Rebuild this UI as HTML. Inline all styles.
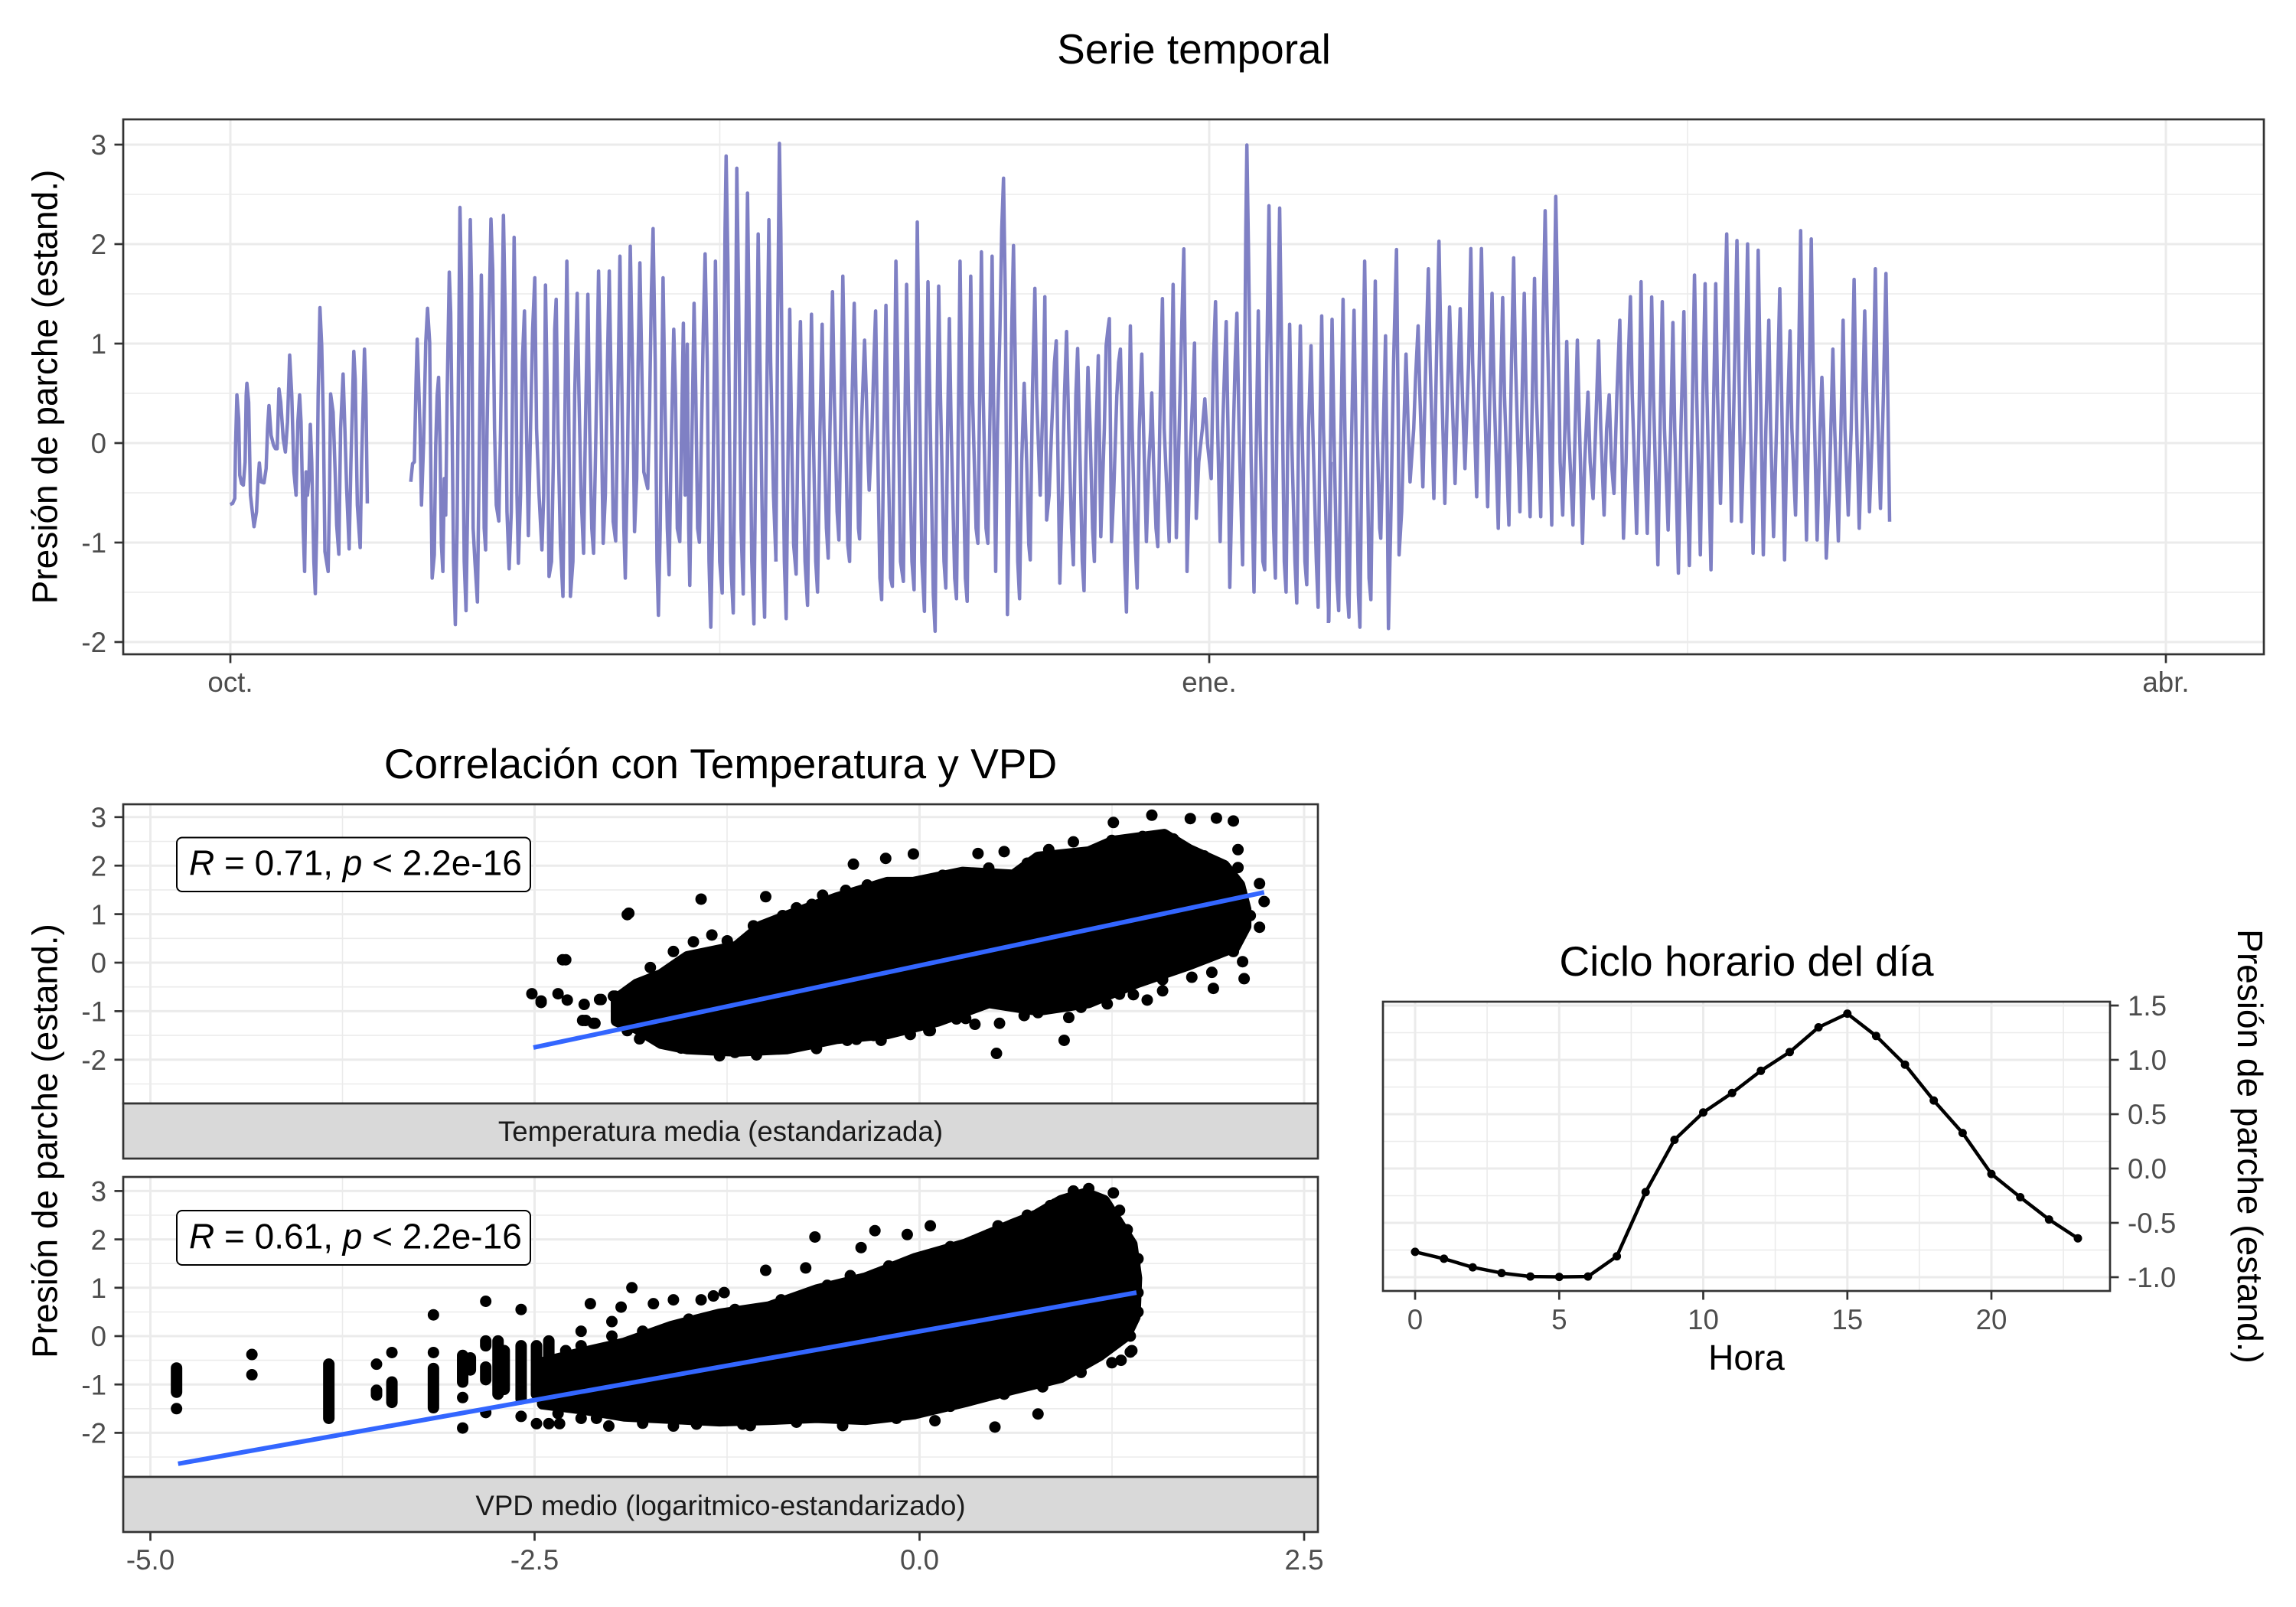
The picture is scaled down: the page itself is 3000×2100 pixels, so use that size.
<!DOCTYPE html>
<html><head><meta charset="utf-8">
<style>
html,body{margin:0;padding:0;background:#fff;}
svg{display:block;}
text{font-family:"Liberation Sans",Arial,sans-serif;}
.tk{font-size:36.7px;fill:#4d4d4d;}
.gmaj{stroke:#ebebeb;stroke-width:3;fill:none;}
.gmin{stroke:#ebebeb;stroke-width:1.6;fill:none;}
.brd{fill:none;stroke:#333333;stroke-width:2.7;}
.tick{stroke:#333333;stroke-width:2.7;}
.ser{fill:none;stroke:#7f80c4;stroke-width:4.5;stroke-linejoin:round;vector-effect:non-scaling-stroke;}
.dots{fill:none;stroke:#000;stroke-width:15;stroke-linecap:round;vector-effect:non-scaling-stroke;}
.blob{fill:#000;stroke:#000;stroke-width:15;stroke-linejoin:round;vector-effect:non-scaling-stroke;}
.reg{fill:none;stroke:#3366FF;stroke-width:6;vector-effect:non-scaling-stroke;}
</style></head>
<body>
<svg width="3000" height="2100" viewBox="0 0 3000 2100" xmlns="http://www.w3.org/2000/svg">
<rect x="0" y="0" width="3000" height="2100" fill="#fff"/>

<!-- ================= TOP PANEL ================= -->
<text x="1560" y="83" font-size="55" text-anchor="middle" fill="#000">Serie temporal</text>
<rect x="161" y="156" width="2797" height="699" fill="#fff"/>
<g class="gmin">
<line x1="161" x2="2958" y1="254" y2="254"/><line x1="161" x2="2958" y1="384" y2="384"/>
<line x1="161" x2="2958" y1="514" y2="514"/><line x1="161" x2="2958" y1="644" y2="644"/>
<line x1="161" x2="2958" y1="774" y2="774"/>
<line x1="940.5" x2="940.5" y1="156" y2="855"/><line x1="2205" x2="2205" y1="156" y2="855"/>
</g>
<g class="gmaj">
<line x1="161" x2="2958" y1="189" y2="189"/><line x1="161" x2="2958" y1="319" y2="319"/>
<line x1="161" x2="2958" y1="449" y2="449"/><line x1="161" x2="2958" y1="579" y2="579"/>
<line x1="161" x2="2958" y1="709" y2="709"/><line x1="161" x2="2958" y1="839" y2="839"/>
<line x1="301" x2="301" y1="156" y2="855"/><line x1="1580" x2="1580" y1="156" y2="855"/>
<line x1="2830" x2="2830" y1="156" y2="855"/>
</g>

<g transform="translate(290,170) scale(0.46556,0.43367)">
<polyline class="ser" points="23,1128 30,1125 36,1110 38,960 42,798 47,870 50,1040 55,1065 60,1070 65,1000 68,800 70,763 75,820 80,1100 90,1195 97,1150 101,1060 105,1003 110,1060 118,1063 124,1020 128,900 132,830 138,920 145,950 150,960 155,960 160,780 165,820 172,930 178,970 184,880 190,678 196,800 202,1030 208,1100 213,880 218,798 222,880 228,1200 232,1330 236,1030 240,1100 244,1050 248,887 252,1000 258,1300 262,1397 266,1200 270,800 275,535 280,650 285,900 289,1270 298,1330 302,1100 305,795 312,850 318,1040 322,1190 328,1278 333,900 340,735 345,900 350,1080 357,1262 362,1000 370,667 374,750 380,1130 388,1258 392,1000 400,660 404,800 408,1125"/>
<polyline class="ser" points="530,1060 535,1005 540,1000 545,750 548,630 552,760 556,900 560,1130 566,940 572,640 577,537 583,640 587,1100 590,1350 596,1280 600,950 604,800 608,745 612,950 616,1250 620,1330 624,1050 628,1160 632,800 638,428 642,550 646,900 650,1300 655,1490 660,1200 664,700 668,233 672,450 676,900 680,1300 685,1448 690,1100 693,600 697,270 701,500 705,1200 710,1300 717,1422 722,1000 728,437 732,700 736,1200 740,1265 744,900 750,550 755,268 760,420 765,900 770,1130 777,1178 782,900 790,257 795,550 800,1150 806,1322 812,1150 820,323 825,700 828,1100 832,1305 838,1100 843,700 849,545 853,800 860,1222 866,900 872,600 878,445 883,900 890,1100 898,1265 903,1100 908,467 913,800 918,1345 925,1300 930,1000 934,600 938,510 943,900 950,1250 957,1405 962,900 968,395 972,700 978,1405 985,1300 990,800 997,492 1002,800 1008,1100 1015,1275 1020,900 1027,495 1032,900 1038,1200 1043,1275 1048,1000 1053,700 1057,425 1062,700 1070,1245 1076,1100 1082,700 1087,425 1092,750 1098,1180 1105,1238 1110,900 1117,380 1122,750 1128,1200 1132,1350 1138,1000 1146,350 1152,700 1158,1210 1164,1050 1168,700 1173,400 1178,700 1184,1030 1195,1080 1200,850 1205,500 1210,297 1216,700 1221,1300 1225,1462 1230,1200 1234,800 1238,445 1243,800 1250,1200 1255,1340 1260,1000 1264,800 1268,600 1273,800 1278,1200 1285,1240 1290,900 1295,582 1300,1100 1306,645 1310,1200 1313,1372 1318,1000 1325,522 1330,800 1335,1200 1340,1242 1346,900 1351,600 1356,373 1362,700 1367,1300 1372,1498 1377,1200 1381,800 1385,395 1390,800 1397,1300 1404,1395 1408,800 1412,300 1415,78 1420,400 1428,1300 1435,1455 1440,900 1445,115 1450,500 1457,1200 1463,1398 1468,900 1475,190 1480,600 1487,1300 1493,1488 1499,900 1505,313 1510,700 1518,1300 1523,1468 1528,900 1535,270 1540,700 1548,1100 1555,1300"/>
</g>
<g transform="translate(1010,170) scale(0.46556,0.43367)">
<polyline class="ser" points="8,1300 13,600 18,40 22,300 27,900 32,1300 37,1472 42,1000 47,540 52,900 58,1250 65,1338 70,900 77,577 82,900 90,1300 97,1432 102,1000 108,555 113,900 120,1300 125,1392 132,900 138,585 143,900 150,1200 155,1290 160,900 167,487 172,800 180,1150 185,1235 190,900 196,440 202,800 210,1250 215,1300 220,900 228,522 233,800 240,1200 243,1232 248,900 257,633 262,800 267,1000 270,1085 278,900 283,700 288,545 293,900 300,1350 305,1415 310,1000 317,528 322,900 330,1350 335,1375 340,900 345,395 350,700 358,1300 366,1360 370,900 375,465 380,800 390,1300 396,1385 400,900 405,277 410,700 418,1300 425,1450 430,900 435,457 440,800 450,1400 455,1510 460,900 465,470 470,800 480,1300 485,1380 490,900 495,568 500,900 510,1350 515,1412 520,900 525,395 530,800 540,1350 545,1420 550,900 555,440 560,800 570,1200 575,1245 580,800 585,367 590,800 598,1200 603,1245 610,800 615,380 620,900 625,1330 630,900 637,600 642,300 647,145 652,500 658,1460 665,1000 670,600 675,348 680,700 687,1300 692,1412 698,1000 705,763 712,1000 718,1250 722,1295 728,800 735,477 740,800 750,1100 758,800 763,502 768,1175 775,1100 782,900 790,700 795,635 800,1000 805,1365 812,1100 818,800 824,607 830,900 838,1200 843,1310 850,800 855,658 862,1000 868,1300 873,1388 878,1000 884,715 890,900 897,1200 902,1300 907,900 913,680 916,900 920,1225 930,900 935,650 940,600 944,568 948,1000 950,1240 956,1100 965,800 970,700 975,660 980,900 987,1300 992,1452 997,1100 1003,590 1008,900 1015,1200 1022,1380 1028,900 1035,675 1040,900 1048,1240 1055,1000 1060,900 1063,792 1068,1000 1075,1200 1080,1255 1087,800 1093,508 1098,900 1106,1100 1112,1240 1118,800 1123,465 1128,900 1132,1228 1140,900 1147,600 1153,358 1158,800 1162,1330 1170,1000 1178,800 1183,642 1188,1170 1195,1000 1205,900 1212,810 1220,950 1230,1050 1236,700 1242,517 1248,900 1255,1240 1262,900 1268,700 1272,577 1277,900 1282,1378 1290,1000 1297,700 1302,552 1308,900 1318,1310 1324,700 1327,300 1330,45 1335,400 1342,1000 1350,1392 1357,900 1362,545 1367,900 1375,1300 1380,1325 1386,700 1392,228 1398,700 1405,1200 1410,1350 1416,700 1422,235 1428,700 1435,1300 1440,1392 1445,900 1450,585 1455,900 1465,1300 1470,1425 1475,900 1480,590 1485,900 1493,1300 1498,1370 1503,900 1510,650 1515,900 1525,1300 1530,1438 1535,900 1540,560 1545,900 1555,1300 1560,1480 1566,1000"/>
</g>
<g transform="translate(1730,170) scale(0.47832,0.43367)">
<polyline class="ser" points="12,1485 17,1000 22,570 27,900 35,1350 40,1448 45,1000 52,510 57,900 64,1400 68,1468 74,1000 82,543 87,900 94,1400 98,1498 104,900 111,395 116,800 123,1350 128,1415 134,900 140,455 145,900 152,1200 155,1230 162,900 168,620 172,1000 176,1502 182,1200 190,700 198,360 203,900 205,1280 212,1150 218,900 224,675 230,900 235,1060 245,900 250,750 257,590 262,800 270,1075 278,700 285,418 290,700 300,1110 307,700 314,335 320,700 330,1125 337,800 343,533 350,800 358,1065 365,800 372,538 378,800 385,1020 395,700 401,357 406,700 417,1105 424,700 430,357 436,700 447,1135 453,800 459,492 465,800 476,1200 482,800 488,505 493,800 505,1190 512,700 518,385 523,700 535,1150 541,800 547,492 552,800 563,1165 569,800 575,447 580,800 592,1165 598,600 604,243 610,600 622,1190 628,600 633,200 638,500 645,1000 652,1160 658,900 663,637 668,900 680,1190 686,900 692,633 698,900 706,1245 712,1000 721,790 727,1000 735,1110 742,900 750,635 756,900 765,1160 772,900 779,798 785,1000 792,1095 800,800 808,573 813,900 818,1230 825,1000 831,700 837,502 842,800 854,1215 860,900 866,457 871,800 883,1215 889,900 895,503 900,800 912,1310 918,900 924,517 930,900 940,1205 947,900 953,580 958,900 968,1335 975,900 983,547 988,900 998,1312 1005,900 1012,437 1018,800 1028,1280 1035,800 1041,463 1046,800 1057,1325 1063,900 1070,463 1075,800 1083,1125 1090,800 1096,500 1100,313 1105,700 1113,1178 1120,800 1128,333 1133,700 1140,1180 1148,900 1157,343 1162,700 1172,1275 1180,900 1186,362 1191,700 1200,1280 1207,900 1215,573 1220,900 1228,1225 1236,900 1245,478 1250,800 1258,1295 1265,900 1273,605 1278,900 1288,1160 1295,800 1302,303 1307,700 1318,1235 1325,800 1331,328 1336,700 1347,1235 1355,900 1360,745 1365,900 1372,1290 1380,1100 1390,660 1395,900 1405,1238 1412,900 1418,573 1423,900 1432,1160 1440,900 1448,450 1453,800 1462,1200 1470,900 1477,545 1482,800 1490,1150 1498,900 1506,418 1511,800 1520,1140 1528,800 1535,432 1540,800 1545,1180"/>
</g>
<rect class="brd" x="161" y="156" width="2797" height="699"/>
<g class="tick">
<line x1="149.5" x2="161" y1="189" y2="189"/><line x1="149.5" x2="161" y1="319" y2="319"/>
<line x1="149.5" x2="161" y1="449" y2="449"/><line x1="149.5" x2="161" y1="579" y2="579"/>
<line x1="149.5" x2="161" y1="709" y2="709"/><line x1="149.5" x2="161" y1="839" y2="839"/>
<line x1="301" x2="301" y1="855" y2="866.5"/><line x1="1580" x2="1580" y1="855" y2="866.5"/>
<line x1="2830" x2="2830" y1="855" y2="866.5"/>
</g>
<g class="tk" text-anchor="end">
<text x="139" y="202">3</text><text x="139" y="332">2</text><text x="139" y="462">1</text>
<text x="139" y="592">0</text><text x="139" y="722">-1</text><text x="139" y="852">-2</text>
</g>
<g class="tk" text-anchor="middle">
<text x="301" y="904">oct.</text><text x="1580" y="904">ene.</text><text x="2830" y="904">abr.</text>
</g>
<text transform="translate(74.5,505.5) rotate(-90)" font-size="46" text-anchor="middle" fill="#000">Presión de parche (estand.)</text>

<!-- ================= BOTTOM LEFT ================= -->
<text x="941.5" y="1017" font-size="55" text-anchor="middle" fill="#000">Correlación con Temperatura y VPD</text>

<!-- panel 1 -->
<rect x="161" y="1051" width="1561" height="391" fill="#fff"/>
<g class="gmin">
<line x1="161" x2="1722" y1="1099.5" y2="1099.5"/><line x1="161" x2="1722" y1="1162.9" y2="1162.9"/>
<line x1="161" x2="1722" y1="1226.3" y2="1226.3"/><line x1="161" x2="1722" y1="1289.7" y2="1289.7"/>
<line x1="161" x2="1722" y1="1353.1" y2="1353.1"/><line x1="161" x2="1722" y1="1416.5" y2="1416.5"/>
<line x1="447.5" x2="447.5" y1="1051" y2="1442"/><line x1="950" x2="950" y1="1051" y2="1442"/>
<line x1="1453" x2="1453" y1="1051" y2="1442"/>
</g>
<g class="gmaj">
<line x1="161" x2="1722" y1="1067.8" y2="1067.8"/><line x1="161" x2="1722" y1="1131.2" y2="1131.2"/>
<line x1="161" x2="1722" y1="1194.6" y2="1194.6"/><line x1="161" x2="1722" y1="1258" y2="1258"/>
<line x1="161" x2="1722" y1="1321.4" y2="1321.4"/><line x1="161" x2="1722" y1="1384.8" y2="1384.8"/>
<line x1="196.5" x2="196.5" y1="1051" y2="1442"/><line x1="698.5" x2="698.5" y1="1051" y2="1442"/>
<line x1="1201.5" x2="1201.5" y1="1051" y2="1442"/><line x1="1704" x2="1704" y1="1051" y2="1442"/>
</g>
<g transform="matrix(201 0 0 -63.4 1201.5 1258)">
<polygon class="blob" points="-1.97,-0.75 -1.84,-0.45 -1.68,-0.25 -1.51,0.12 -1.19,0.33 -1.03,0.75 -0.86,0.96 -0.54,1.33 -0.21,1.65 -0.04,1.65 0.28,1.86 0.61,1.8 0.77,2.17 1.1,2.28 1.26,2.5 1.59,2.64 1.75,2.33 1.98,2.0 2.08,1.6 2.12,1.1 2.12,0.75 2.05,0.33 1.75,-0.04 1.42,-0.4 1.1,-0.82 0.77,-0.98 0.45,-0.82 0.12,-1.2 -0.21,-1.46 -0.54,-1.56 -0.86,-1.77 -1.19,-1.82 -1.51,-1.77 -1.68,-1.66 -1.84,-1.35 -1.97,-1.2"/>
<path class="dots" d="M-2.52 -0.64h0M-2.46 -0.79h0M-2.35 -0.64h0M-2.29 -0.77h0M-2.30 0.06h0M-2.18 -0.86h0M-2.17 -1.19h0M-2.11 -1.25h0M-2.07 -0.76h0M-1.99 -0.69h0M-1.90 0.99h0M-2.32 0.06h0M-1.89 1.02h0M-1.42 1.31h0M-1.0 1.36h0M-0.43 2.03h0M-0.22 2.15h0M-0.04 2.24h0M0.38 2.25h0M0.55 2.29h0M1.26 2.89h0M1.51 3.04h0M1.76 2.97h0M1.93 2.98h0M2.04 2.92h0M2.21 1.63h0M2.24 1.26h0M2.21 0.73h0M2.11 -0.33h0M1.91 -0.53h0M1.58 -0.58h0M1.48 -0.77h0M0.94 -1.6h0M0.5 -1.87h0M0.52 -1.25h0M0.36 -1.27h0M0.24 -1.16h0M-0.25 -1.6h0M0.07 -1.4h0M-0.06 -1.48h0M-0.47 -1.6h0M-1.82 -1.57h0M-2.19 -1.19h0M-2.12 -1.25h0M-2.46 -0.82h0M-2.35 -0.64h0M-2.08 -0.76h0M-1.98 -0.69h0M-1.6 0.23h0M-1.35 0.57h0M-1.47 0.43h0M-1.08 0.76h0M-0.89 0.97h0M-0.8 1.13h0M-0.63 1.39h0M-0.48 1.49h0M-0.34 1.6h0M0.84 2.33h0M1.0 2.49h0M1.25 2.52h0M2.07 2.33h0M2.07 1.96h0M2.15 0.97h0M2.1 0.02h0M2.04 0.23h0M1.58 -0.35h0M1.77 -0.3h0M1.39 -0.66h0M1.22 -0.85h0M1.05 -0.92h0M0.97 -1.13h0M0.77 -1.03h0M0.68 -1.09h0M0.22 -1.06h0M0.06 -1.4h0M-0.41 -1.58h0M-0.67 -1.77h0M-1.06 -1.9h0M-1.3 -1.92h0M-1.55 -1.76h0M-1.7 -1.55h0M-1.75 -0.1h0M-1.25 0.45h0M-0.7 1.2h0M0.15 1.8h0M0.45 1.95h0M0.7 2.05h0M1.45 2.6h0M1.65 2.55h0M1.85 2.2h0M-1.9 -1.4h0M-1.2 -1.85h0M-0.3 -1.5h0M0.3 -1.15h0M1.3 -0.65h0M1.9 -0.2h0"/>
<line class="reg" x1="-2.51" y1="-1.75" x2="2.24" y2="1.45"/>
</g>
<rect class="brd" x="161" y="1051" width="1561" height="391"/>
<rect x="231" y="1094.5" width="462" height="70.5" rx="7" ry="7" fill="#fff" stroke="#000" stroke-width="2"/>
<text x="247" y="1143.5" font-size="46" fill="#000"><tspan font-style="italic">R</tspan> = 0.71, <tspan font-style="italic">p</tspan> &lt; 2.2e-16</text>
<!-- strip 1 -->
<rect x="161" y="1442" width="1561" height="72" fill="#d9d9d9" stroke="#333333" stroke-width="2.7"/>
<text x="941.5" y="1491" font-size="36.7" text-anchor="middle" fill="#1a1a1a">Temperatura media (estandarizada)</text>

<!-- panel 2 -->
<rect x="161" y="1538" width="1561" height="392" fill="#fff"/>
<g class="gmin">
<line x1="161" x2="1722" y1="1588" y2="1588"/><line x1="161" x2="1722" y1="1651.2" y2="1651.2"/>
<line x1="161" x2="1722" y1="1714.4" y2="1714.4"/><line x1="161" x2="1722" y1="1777.6" y2="1777.6"/>
<line x1="161" x2="1722" y1="1840.8" y2="1840.8"/><line x1="161" x2="1722" y1="1904" y2="1904"/>
<line x1="447.5" x2="447.5" y1="1538" y2="1930"/><line x1="950" x2="950" y1="1538" y2="1930"/>
<line x1="1453" x2="1453" y1="1538" y2="1930"/>
</g>
<g class="gmaj">
<line x1="161" x2="1722" y1="1556.4" y2="1556.4"/><line x1="161" x2="1722" y1="1619.6" y2="1619.6"/>
<line x1="161" x2="1722" y1="1682.8" y2="1682.8"/><line x1="161" x2="1722" y1="1746" y2="1746"/>
<line x1="161" x2="1722" y1="1809.2" y2="1809.2"/><line x1="161" x2="1722" y1="1872.4" y2="1872.4"/>
<line x1="196.5" x2="196.5" y1="1538" y2="1930"/><line x1="698.5" x2="698.5" y1="1538" y2="1930"/>
<line x1="1201.5" x2="1201.5" y1="1538" y2="1930"/><line x1="1704" x2="1704" y1="1538" y2="1930"/>
</g>
<g transform="matrix(201 0 0 -63.2 1201.5 1746)">
<polygon class="blob" points="-2.45,-0.55 -2.2,-0.35 -1.92,-0.15 -1.61,0.2 -1.3,0.45 -0.98,0.6 -0.67,0.95 -0.35,1.2 -0.03,1.6 0.3,1.9 0.6,2.3 0.76,2.5 0.92,2.8 1.08,2.95 1.2,2.8 1.3,2.3 1.38,1.9 1.41,1.2 1.40,0.4 1.34,0.0 1.17,-0.4 0.92,-0.85 0.6,-1.1 0.3,-1.35 -0.03,-1.6 -0.35,-1.72 -0.67,-1.68 -0.98,-1.72 -1.3,-1.75 -1.61,-1.7 -1.92,-1.65 -2.2,-1.5 -2.45,-1.4"/>
<path class="dots" d="M-4.83 -0.66v-0.5M-4.83 -1.5h0M-4.34 -0.38h0M-4.34 -0.8h0M-3.84 -0.58v-1.12M-3.53 -0.58h0M-3.53 -1.12v-0.1M-3.43 -0.34h0M-3.43 -0.95v-0.42M-3.16 0.44h0M-3.16 -0.34h0M-3.16 -0.67v-0.81M-2.97 -0.4v-0.55M-2.97 -1.27h0M-2.97 -1.9h0M-2.92 -0.45v-0.25M-2.82 0.72h0M-2.82 -0.1v-0.1M-2.82 -0.64v-0.26M-2.82 -1.58h0M-2.74 -0.1v-1.1M-2.70 -0.3v-0.8M-2.59 0.55h0M-2.59 -0.2v-1.1M-2.59 -1.66h0M-2.49 -0.2v-1.0M-2.49 -1.81h0M-2.41 -0.1v-1.0M-2.41 -1.81h0M-2.14 0.67h0M-1.94 0.6h0M-1.87 1.0h0M-1.73 0.67h0M-1.6 0.75h0M-1.42 0.75h0M-1.34 0.83h0M-1.27 0.9h0M-1.0 1.36h0M-0.74 1.41h0M-0.68 2.05h0M-0.38 1.83h0M-0.29 2.18h0M-0.08 2.1h0M0.07 2.28h0M0.51 2.28h0M0.88 2.73h0M1.10 3.05h0M1.26 2.96h0M1.28 2.36h0M1.40 1.24h0M1.38 -0.3h0M1.31 -0.5h0M-2.34 -1.81h0M-2.02 -1.86h0M-1.6 -1.86h0M-1.45 -1.78h0M0.49 -1.88h0M0.77 -1.61h0M1.37 -0.33h0M1.37 0.0h0M1.38 1.83h0M1.27 2.38h0M1.0 3.0h0M1.4 1.5h0M-2.3 -0.3h0M-2.2 0.1h0M-2.0 0.3h0M-2.2 -1.7h0M-1.8 -1.8h0M-1.1 -1.85h0M-0.5 -1.85h0M0.1 -1.75h0M-2.2 -0.2h0M-2.0 0.0h0M-1.8 0.1h0M-1.5 0.35h0M-1.2 0.55h0M-0.9 0.75h0M-0.6 1.05h0M-0.45 1.25h0M-0.2 1.45h0M0.2 1.85h0M0.45 2.1h0M0.7 2.5h0M0.85 2.7h0M1.3 2.6h0M1.35 2.2h0M1.42 1.6h0M1.42 0.9h0M1.42 0.5h0M1.25 -0.55h0M1.05 -0.75h0M0.8 -1.05h0M0.55 -1.2h0M0.2 -1.45h0M-0.15 -1.7h0M-0.5 -1.8h0M-0.8 -1.78h0M-1.15 -1.82h0M-1.45 -1.82h0M-1.8 -1.78h0M-2.1 -1.7h0M-2.35 -1.6h0"/>
<line class="reg" x1="-4.82" y1="-2.64" x2="1.41" y2="0.9"/>
</g>
<rect class="brd" x="161" y="1538" width="1561" height="392"/>
<rect x="231" y="1582" width="462" height="71" rx="7" ry="7" fill="#fff" stroke="#000" stroke-width="2"/>
<text x="247" y="1631.5" font-size="46" fill="#000"><tspan font-style="italic">R</tspan> = 0.61, <tspan font-style="italic">p</tspan> &lt; 2.2e-16</text>
<!-- strip 2 -->
<rect x="161" y="1930" width="1561" height="72" fill="#d9d9d9" stroke="#333333" stroke-width="2.7"/>
<text x="941.5" y="1980" font-size="36.7" text-anchor="middle" fill="#1a1a1a">VPD medio (logaritmico-estandarizado)</text>

<g class="tick">
<line x1="149.5" x2="161" y1="1067.8" y2="1067.8"/><line x1="149.5" x2="161" y1="1131.2" y2="1131.2"/>
<line x1="149.5" x2="161" y1="1194.6" y2="1194.6"/><line x1="149.5" x2="161" y1="1258" y2="1258"/>
<line x1="149.5" x2="161" y1="1321.4" y2="1321.4"/><line x1="149.5" x2="161" y1="1384.8" y2="1384.8"/>
<line x1="149.5" x2="161" y1="1556.4" y2="1556.4"/><line x1="149.5" x2="161" y1="1619.6" y2="1619.6"/>
<line x1="149.5" x2="161" y1="1682.8" y2="1682.8"/><line x1="149.5" x2="161" y1="1746" y2="1746"/>
<line x1="149.5" x2="161" y1="1809.2" y2="1809.2"/><line x1="149.5" x2="161" y1="1872.4" y2="1872.4"/>
<line x1="196.5" x2="196.5" y1="2002" y2="2013.5"/><line x1="698.5" x2="698.5" y1="2002" y2="2013.5"/>
<line x1="1201.5" x2="1201.5" y1="2002" y2="2013.5"/><line x1="1704" x2="1704" y1="2002" y2="2013.5"/>
</g>
<g class="tk" text-anchor="end">
<text x="139" y="1081">3</text><text x="139" y="1144.4">2</text><text x="139" y="1207.8">1</text>
<text x="139" y="1271.2">0</text><text x="139" y="1334.6">-1</text><text x="139" y="1398">-2</text>
<text x="139" y="1569.6">3</text><text x="139" y="1632.8">2</text><text x="139" y="1696">1</text>
<text x="139" y="1759.2">0</text><text x="139" y="1822.4">-1</text><text x="139" y="1885.6">-2</text>
</g>
<g class="tk" text-anchor="middle">
<text x="196.5" y="2051">-5.0</text><text x="698.5" y="2051">-2.5</text>
<text x="1201.5" y="2051">0.0</text><text x="1704" y="2051">2.5</text>
</g>
<text transform="translate(74.5,1491) rotate(-90)" font-size="46" text-anchor="middle" fill="#000">Presión de parche (estand.)</text>

<!-- ================= RIGHT PANEL ================= -->
<text x="2282" y="1275" font-size="55" text-anchor="middle" fill="#000">Ciclo horario del día</text>
<rect x="1807" y="1309" width="950" height="378" fill="#fff"/>
<g class="gmin">
<line x1="1807" x2="2757" y1="1349.5" y2="1349.5"/><line x1="1807" x2="2757" y1="1420.5" y2="1420.5"/>
<line x1="1807" x2="2757" y1="1491.5" y2="1491.5"/><line x1="1807" x2="2757" y1="1562.5" y2="1562.5"/>
<line x1="1807" x2="2757" y1="1633.5" y2="1633.5"/>
<line x1="1943.1" x2="1943.1" y1="1309" y2="1687"/><line x1="2131.4" x2="2131.4" y1="1309" y2="1687"/>
<line x1="2319.6" x2="2319.6" y1="1309" y2="1687"/><line x1="2507.9" x2="2507.9" y1="1309" y2="1687"/>
<line x1="2696.1" x2="2696.1" y1="1309" y2="1687"/>
</g>
<g class="gmaj">
<line x1="1807" x2="2757" y1="1314" y2="1314"/><line x1="1807" x2="2757" y1="1385" y2="1385"/>
<line x1="1807" x2="2757" y1="1456" y2="1456"/><line x1="1807" x2="2757" y1="1527" y2="1527"/>
<line x1="1807" x2="2757" y1="1598" y2="1598"/><line x1="1807" x2="2757" y1="1669" y2="1669"/>
<line x1="1849" x2="1849" y1="1309" y2="1687"/><line x1="2037.3" x2="2037.3" y1="1309" y2="1687"/>
<line x1="2225.5" x2="2225.5" y1="1309" y2="1687"/><line x1="2413.8" x2="2413.8" y1="1309" y2="1687"/>
<line x1="2602" x2="2602" y1="1309" y2="1687"/>
</g>
<polyline fill="none" stroke="#000" stroke-width="4.5" stroke-linejoin="round" points="1849,1635.9 1886.7,1644.9 1924.3,1656.1 1962,1663.6 1999.6,1668.1 2037.3,1668.6 2074.9,1668.1 2112.6,1641.7 2150.2,1557.8 2187.9,1489.5 2225.5,1453.7 2263.2,1428.3 2300.8,1399.3 2338.5,1374.8 2376.1,1342.5 2413.8,1324.6 2451.4,1353.8 2489.1,1391.2 2526.7,1438.1 2564.4,1480.6 2602,1534.1 2639.7,1564.5 2677.3,1593.6 2715,1618.2"/>
<path fill="none" stroke="#000" stroke-width="11" stroke-linecap="round" d="M1849 1635.9h0M1886.7 1644.9h0M1924.3 1656.1h0M1962 1663.6h0M1999.6 1668.1h0M2037.3 1668.6h0M2074.9 1668.1h0M2112.6 1641.7h0M2150.2 1557.8h0M2187.9 1489.5h0M2225.5 1453.7h0M2263.2 1428.3h0M2300.8 1399.3h0M2338.5 1374.8h0M2376.1 1342.5h0M2413.8 1324.6h0M2451.4 1353.8h0M2489.1 1391.2h0M2526.7 1438.1h0M2564.4 1480.6h0M2602 1534.1h0M2639.7 1564.5h0M2677.3 1593.6h0M2715 1618.2h0"/>
<rect class="brd" x="1807" y="1309" width="950" height="378"/>
<g class="tick">
<line x1="2757" x2="2768.5" y1="1314" y2="1314"/><line x1="2757" x2="2768.5" y1="1385" y2="1385"/>
<line x1="2757" x2="2768.5" y1="1456" y2="1456"/><line x1="2757" x2="2768.5" y1="1527" y2="1527"/>
<line x1="2757" x2="2768.5" y1="1598" y2="1598"/><line x1="2757" x2="2768.5" y1="1669" y2="1669"/>
<line x1="1849" x2="1849" y1="1687" y2="1698.5"/><line x1="2037.3" x2="2037.3" y1="1687" y2="1698.5"/>
<line x1="2225.5" x2="2225.5" y1="1687" y2="1698.5"/><line x1="2413.8" x2="2413.8" y1="1687" y2="1698.5"/>
<line x1="2602" x2="2602" y1="1687" y2="1698.5"/>
</g>
<g class="tk" text-anchor="start">
<text x="2780" y="1327">1.5</text><text x="2780" y="1398">1.0</text><text x="2780" y="1469">0.5</text>
<text x="2780" y="1540">0.0</text><text x="2780" y="1611">-0.5</text><text x="2780" y="1682">-1.0</text>
</g>
<g class="tk" text-anchor="middle">
<text x="1849" y="1737">0</text><text x="2037.3" y="1737">5</text><text x="2225.5" y="1737">10</text>
<text x="2413.8" y="1737">15</text><text x="2602" y="1737">20</text>
</g>
<text x="2282" y="1790" font-size="46" text-anchor="middle" fill="#000">Hora</text>
<text transform="translate(2924,1498) rotate(90)" font-size="46" text-anchor="middle" fill="#000">Presión de parche (estand.)</text>
</svg>
</body></html>
